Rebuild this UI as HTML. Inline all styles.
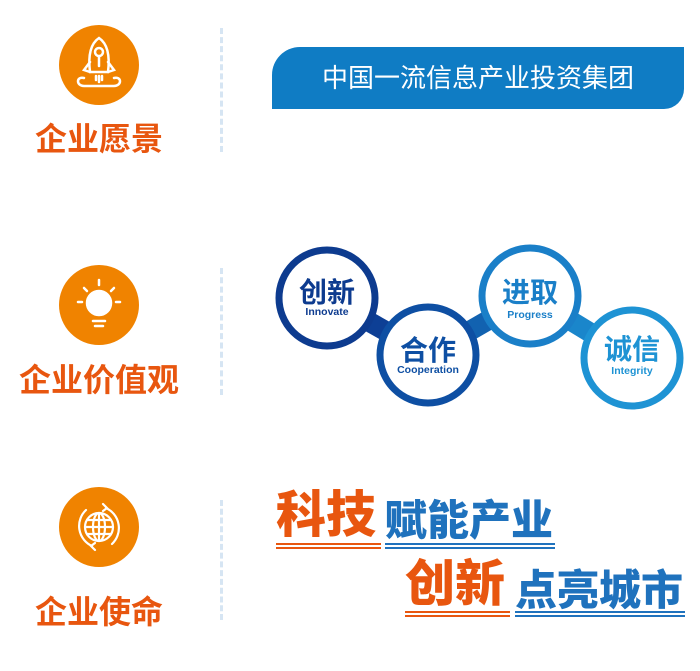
<!DOCTYPE html>
<html><head><meta charset="utf-8"><style>
body{margin:0;width:700px;height:671px;background:#fff;position:relative;overflow:hidden;font-family:"Liberation Sans","Noto Sans CJK SC",sans-serif}
.a{position:absolute}
.lab{position:absolute;color:#e8560f;font-weight:bold;font-size:32px;white-space:nowrap;text-align:center;width:200px;left:-1px;line-height:1}
.dash{position:absolute;left:220px;width:0;border-left:3px dashed #d6e5f3}
.big{position:absolute;font-weight:900;white-space:nowrap;line-height:1}
.ul{position:absolute;height:2px}
</style></head><body>
<svg class="a" style="left:0;top:0" width="700" height="671">
 <circle cx="99" cy="65" r="40" fill="#f08300"/>
 <g fill="none" stroke="#fff" stroke-width="2.5" stroke-linecap="round">
  <path d="M99 38 C90 44 88 56 90 72 L108 72 C110 56 108 44 99 38Z"/>
  <circle cx="99" cy="52" r="4"/><path d="M99 57 V66"/>
  <path d="M90 62 L84 70 L90 72 M108 62 L114 70 L108 72"/>
  <path d="M84 78 C76 76 76 86 84 86 H114 C122 86 122 76 114 78"/>
  <path d="M96 76 V80 M102 76 V80 M99 76 V82"/>
 </g>
 <circle cx="99" cy="305" r="40" fill="#f08300"/>
 <g fill="none" stroke="#fff" stroke-width="2.5" stroke-linecap="round">
  <circle cx="99" cy="303" r="12" fill="#fff"/>
  <path d="M99 280 V285 M84 288 L87 291 M114 288 L111 291 M78 302 H82 M116 302 H120 M93 321 H105 M95 326 H103"/>
 </g>
 <circle cx="99" cy="527" r="40" fill="#f08300"/>
 <g fill="none" stroke="#fff" stroke-width="2.2" stroke-linecap="round">
  <circle cx="99" cy="527" r="14"/>
  <ellipse cx="99" cy="527" rx="6" ry="14"/>
  <path d="M85 527 H113 M87 520 H111 M87 534 H111 M99 513 V541"/>
  <path d="M86 510 A22 22 0 0 0 92 546 M112 544 A22 22 0 0 0 106 508 M103 504 L107 508 L103 511 M95 550 L91 546 L95 543"/>
 </g>
 <g stroke-width="20">
  <line x1="327" y1="298" x2="428" y2="355" stroke="#0d3f95"/>
  <line x1="428" y1="355" x2="530" y2="296" stroke="#1262b0"/>
  <line x1="530" y1="296" x2="632" y2="358" stroke="#1a86cb"/>
 </g>
 <circle cx="327" cy="298" r="48" fill="#fff" stroke="#0d3b8f" stroke-width="7"/>
 <circle cx="428" cy="355" r="48" fill="#fff" stroke="#0e4fa3" stroke-width="7"/>
 <circle cx="530" cy="296" r="48" fill="#fff" stroke="#1a7fc8" stroke-width="7"/>
 <circle cx="632" cy="358" r="48" fill="#fff" stroke="#1e93d4" stroke-width="7"/>
 <g font-family="Liberation Sans,Noto Sans CJK SC,sans-serif" font-weight="bold" text-anchor="middle">
  <text x="327" y="302" font-size="28" fill="#0d3b8f">创新</text>
  <text x="327" y="315" font-size="10.5" fill="#0d3b8f">Innovate</text>
  <text x="428" y="360" font-size="28" fill="#0e4fa3">合作</text>
  <text x="428" y="373" font-size="10.5" fill="#0e4fa3">Cooperation</text>
  <text x="530" y="302" font-size="28" fill="#1a7fc8">进取</text>
  <text x="530" y="318" font-size="10.5" fill="#1a7fc8">Progress</text>
  <text x="632" y="359" font-size="28" fill="#1e93d4">诚信</text>
  <text x="632" y="374" font-size="10.5" fill="#1e93d4">Integrity</text>
 </g>
</svg>
<div class="lab" style="top:123px">企业愿景</div>
<div class="lab" style="top:364px">企业价值观</div>
<div class="lab" style="top:596px">企业使命</div>
<div class="dash" style="top:28px;height:124px"></div>
<div class="dash" style="top:268px;height:127px"></div>
<div class="dash" style="top:500px;height:120px"></div>
<div class="a" style="left:272px;top:47px;width:412px;height:62px;background:#0f7cc4;border-radius:28px 0 20px 0;color:#fff;font-size:26px;text-align:center;line-height:62px">中国一流信息产业投资集团</div>
<div class="big" style="left:276px;top:490px;font-size:50px;color:#e8560f">科技</div>
<div class="ul" style="left:276px;top:543px;width:105px;border-top:2px solid #e8560f;border-bottom:2px solid #e8560f;height:2px"></div>
<div class="big" style="left:385px;top:500px;font-size:42px;color:#1f72bd">赋能产业</div>
<div class="ul" style="left:385px;top:543px;width:170px;border-top:2px solid #1f72bd;border-bottom:2px solid #1f72bd;height:2px"></div>
<div class="big" style="left:405px;top:559px;font-size:50px;color:#e8560f">创新</div>
<div class="ul" style="left:405px;top:611px;width:105px;border-top:2px solid #e8560f;border-bottom:2px solid #e8560f;height:2px"></div>
<div class="big" style="left:515px;top:570px;font-size:42px;color:#1f72bd">点亮城市</div>
<div class="ul" style="left:515px;top:611px;width:170px;border-top:2px solid #1f72bd;border-bottom:2px solid #1f72bd;height:2px"></div>
</body></html>
